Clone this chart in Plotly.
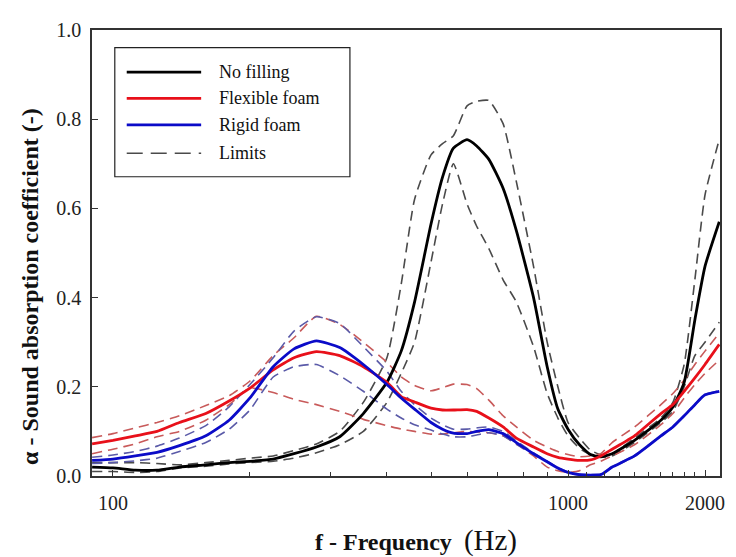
import plotly.graph_objects as go

freq = [90, 100, 112, 125, 140, 160, 180, 200, 225, 250, 280, 315, 355, 400, 430, 460,
        500, 530, 560, 600, 630, 670, 720, 770, 840, 900, 950, 1000, 1060, 1120, 1180,
        1250, 1400, 1600, 1700, 1800, 1900, 2000, 2150]

no_filling = [0.020, 0.018, 0.013, 0.013, 0.020, 0.025, 0.030, 0.033, 0.038, 0.050, 0.065, 0.088,
              0.140, 0.210, 0.280, 0.390, 0.565, 0.670, 0.735, 0.754, 0.740, 0.710, 0.645, 0.550,
              0.400, 0.245, 0.150, 0.105, 0.070, 0.048, 0.043, 0.050, 0.080, 0.125, 0.155, 0.210,
              0.350, 0.470, 0.570]
no_filling_hi = [0.030, 0.030, 0.030, 0.028, 0.025, 0.030, 0.035, 0.040, 0.045, 0.057, 0.072, 0.100,
                 0.165, 0.265, 0.430, 0.620, 0.720, 0.745, 0.763, 0.830, 0.840, 0.842, 0.790, 0.660,
                 0.470, 0.300, 0.200, 0.120, 0.085, 0.058, 0.048, 0.050, 0.085, 0.130, 0.165, 0.250,
                 0.440, 0.630, 0.755]
no_filling_lo = [0.010, 0.010, 0.008, 0.010, 0.018, 0.022, 0.027, 0.030, 0.033, 0.040, 0.052, 0.070,
                 0.100, 0.165, 0.230, 0.300, 0.480, 0.610, 0.700, 0.610, 0.560, 0.510, 0.440, 0.390,
                 0.290, 0.185, 0.130, 0.090, 0.062, 0.048, 0.042, 0.045, 0.075, 0.120, 0.145, 0.200,
                 0.270, 0.300, 0.345]

flexible = [0.072, 0.080, 0.090, 0.100, 0.120, 0.140, 0.168, 0.197, 0.238, 0.265, 0.279, 0.270,
            0.245, 0.210, 0.178, 0.166, 0.152, 0.148, 0.148, 0.149, 0.145, 0.130, 0.110, 0.085,
            0.065, 0.050, 0.042, 0.038, 0.035, 0.036, 0.045, 0.060, 0.090, 0.140, 0.160, 0.190,
            0.220, 0.250, 0.295]
flexible_hi = [0.086, 0.095, 0.108, 0.120, 0.135, 0.158, 0.180, 0.213, 0.270, 0.310, 0.358, 0.340,
               0.300, 0.255, 0.222, 0.203, 0.191, 0.198, 0.206, 0.205, 0.196, 0.170, 0.135, 0.110,
               0.080, 0.065, 0.055, 0.048, 0.043, 0.045, 0.050, 0.075, 0.110, 0.160, 0.185, 0.215,
               0.250, 0.280, 0.320]
flexible_lo = [0.050, 0.060, 0.072, 0.088, 0.100, 0.125, 0.160, 0.197, 0.187, 0.172, 0.160, 0.145,
               0.127, 0.113, 0.105, 0.100, 0.094, 0.094, 0.097, 0.100, 0.099, 0.097, 0.090, 0.072,
               0.045, 0.020, 0.012, 0.008, 0.012, 0.025, 0.033, 0.045, 0.070, 0.115, 0.140, 0.175,
               0.205, 0.230, 0.260]

rigid = [0.035, 0.038, 0.045, 0.053, 0.068, 0.090, 0.125, 0.175, 0.245, 0.285, 0.303, 0.288,
         0.250, 0.205, 0.175, 0.150, 0.120, 0.105, 0.096, 0.095, 0.100, 0.104, 0.095, 0.075,
         0.050, 0.032, 0.018, 0.008, 0.003, 0.002, 0.003, 0.020, 0.045, 0.090, 0.110, 0.135,
         0.160, 0.182, 0.190]
rigid_hi = [0.042, 0.047, 0.055, 0.067, 0.085, 0.113, 0.155, 0.205, 0.265, 0.325, 0.357, 0.342,
            0.290, 0.235, 0.190, 0.160, 0.130, 0.115, 0.105, 0.105, 0.108, 0.110, 0.100, 0.079,
            0.052, 0.033, 0.019, 0.009, 0.004, 0.003, 0.004, 0.021, 0.046, 0.091, 0.111, 0.136,
            0.161, 0.183, 0.191]
rigid_lo = [0.028, 0.030, 0.034, 0.040, 0.055, 0.075, 0.105, 0.148, 0.222, 0.245, 0.250, 0.225,
            0.190, 0.150, 0.130, 0.115, 0.103, 0.094, 0.088, 0.088, 0.092, 0.097, 0.090, 0.071,
            0.048, 0.031, 0.017, 0.007, 0.002, 0.001, 0.002, 0.019, 0.044, 0.089, 0.109, 0.134,
            0.159, 0.181, 0.189]

y_ticks = [0.0, 0.2, 0.4, 0.6, 0.8, 1.0]
x_ticks = [100, 1000, 2000]
x_tick_labels = ["100", "1000", "2000"]
x_minor = [200, 300, 400, 500, 600, 700, 800, 900, 1100, 1200, 1300, 1400, 1500, 1600, 1700, 1800, 1900]

legend_labels = ["No filling", "Flexible foam", "Rigid foam", "Limits"]

FONT = "Liberation Serif"
BLACK = "#000000"
RED = "#e8101a"
BLUE = "#0b0bc8"
BLACK_D = "#4a4a4a"
RED_D = "#c85a5a"
BLUE_D = "#5a5aa8"
DASH = "10px,6px"

fig = go.Figure()

def add(y, color, width, dash=None):
    fig.add_trace(go.Scatter(
        x=freq, y=y, mode="lines", showlegend=False,
        line=dict(color=color, width=width, dash=dash, shape="spline", smoothing=0.5),
        hoverinfo="skip"))

add(no_filling_hi, BLACK_D, 1.6, DASH)
add(no_filling_lo, BLACK_D, 1.6, DASH)
add(flexible_hi, RED_D, 1.6, DASH)
add(flexible_lo, RED_D, 1.6, DASH)
add(rigid_hi, BLUE_D, 1.6, DASH)
add(rigid_lo, BLUE_D, 1.6, DASH)
add(no_filling, BLACK, 2.8)
add(flexible, RED, 2.8)
add(rigid, BLUE, 2.8)

# Hand-drawn legend box (paper coordinates)
shapes = [dict(type="rect", xref="paper", yref="paper", x0=0.0363, x1=0.4107, y0=0.671, y1=0.9605,
               line=dict(color="#222222", width=1.2), fillcolor="white", layer="above")]
annotations = []
row_y = [0.9057, 0.8465, 0.7873, 0.7237]
row_colors = [BLACK, RED, BLUE, BLACK_D]
row_dash = [None, None, None, "16px,8px"]
row_width = [2.8, 2.8, 2.8, 1.6]
for lab, yy, col, dsh, w in zip(legend_labels, row_y, row_colors, row_dash, row_width):
    shapes.append(dict(type="line", xref="paper", yref="paper", x0=0.0553, x1=0.1738, y0=yy, y1=yy,
                       line=dict(color=col, width=w, dash=dsh), layer="above"))
    annotations.append(dict(text=lab, xref="paper", yref="paper", x=0.199, y=yy,
                            xanchor="left", yanchor="middle", showarrow=False,
                            font=dict(family=FONT, size=18, color="#111111")))

annotations += [
    dict(text="<b>α - Sound absorption coefficient (-)</b>", textangle=-90,
         xref="paper", yref="paper", x=-0.098, y=0.425,
         xanchor="center", yanchor="middle", showarrow=False,
         font=dict(family=FONT, size=24, color="#111111")),
    dict(text="<b>f - Frequency</b>  <span style='font-size:29px'>(Hz)</span>",
         xref="paper", yref="paper", x=0.516, y=-0.145,
         xanchor="center", yanchor="middle", showarrow=False,
         font=dict(family=FONT, size=24, color="#111111")),
]

fig.update_layout(
    width=728, height=549,
    margin=dict(l=84, r=11, t=12, b=81),
    paper_bgcolor="white", plot_bgcolor="white",
    font=dict(family=FONT, size=20, color="#222222"),
    showlegend=False,
    xaxis=dict(type="log", range=[1.954, 3.334],
               tickmode="array", tickvals=x_ticks, ticktext=x_tick_labels,
               ticks="inside", ticklen=6, tickwidth=1, tickcolor="#333333",
               ticklabelstandoff=8,
               minor=dict(tickmode="array", tickvals=x_minor, ticks="inside",
                          ticklen=4, tickwidth=1, tickcolor="#333333", showgrid=False),
               showline=True, linecolor="#333333", linewidth=1.5, mirror=True,
               showgrid=False, zeroline=False,
               tickfont=dict(family=FONT, size=20, color="#222222")),
    yaxis=dict(range=[0, 1.0], tickmode="array", tickvals=y_ticks, tickformat=".1f",
               ticks="inside", ticklen=6, tickwidth=1, tickcolor="#333333",
               ticklabelstandoff=5,
               showline=True, linecolor="#333333", linewidth=1.5, mirror=True,
               showgrid=False, zeroline=False,
               tickfont=dict(family=FONT, size=20, color="#222222")),
    shapes=shapes,
    annotations=annotations,
)

fig.write_html("out.html")
